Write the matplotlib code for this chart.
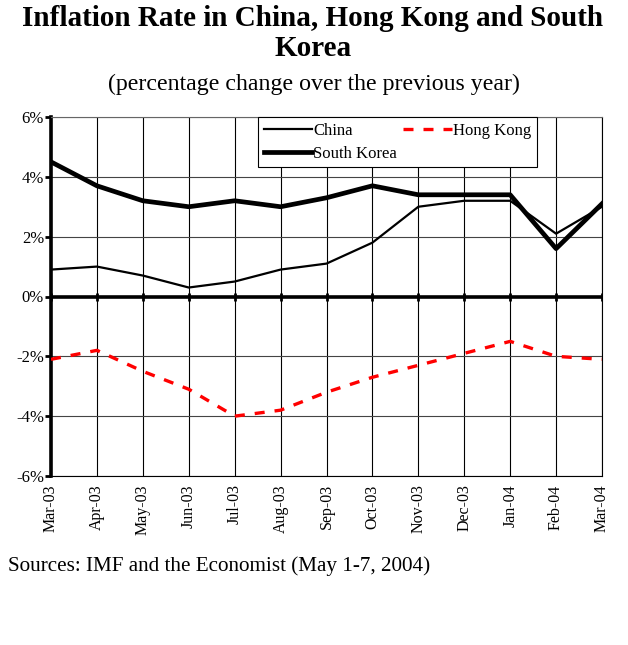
#!/usr/bin/env python3

import numpy as np
from matplotlib import pyplot as plt

### chart data (percent change over previous year)
MONTHS = ['Mar-03', 'Apr-03', 'May-03', 'Jun-03', 'Jul-03', 'Aug-03', 'Sep-03',
          'Oct-03', 'Nov-03', 'Dec-03', 'Jan-04', 'Feb-04', 'Mar-04']
CHINA = [0.9, 1.0, 0.7, 0.3, 0.5, 0.9, 1.1, 1.8, 3.0, 3.2, 3.2, 2.1, 3.0]
SOUTH_KOREA = [4.5, 3.7, 3.2, 3.0, 3.2, 3.0, 3.3, 3.7, 3.4, 3.4, 3.4, 1.6, 3.1]
HONG_KONG = [-2.1, -1.8, -2.5, -3.1, -4.0, -3.8, -3.2, -2.7, -2.3, -1.9, -1.5, -2.0, -2.1]
YTICKS = [-6, -4, -2, 0, 2, 4, 6]

SERIF = 'Liberation Serif'


def main():
    plt.rcParams['font.family'] = SERIF
    fig = plt.figure(figsize=(6.28, 6.45), dpi=100)
    ax = fig.add_axes([51 / 628, 1 - 476 / 645, 551 / 628, 359 / 645])

    x = np.arange(len(MONTHS))

    ax.plot(x, CHINA, color='black', linewidth=1.6, label='China', zorder=3)
    ax.plot(x, SOUTH_KOREA, color='black', linewidth=3.4, label='South Korea', zorder=3)
    ax.plot(x, HONG_KONG, color='red', linewidth=2.4, linestyle=(0, (3, 3)),
            label='Hong Kong', zorder=3)

    ax.set_xlim(0, len(MONTHS) - 1)
    ax.set_ylim(-6, 6)

    # grid
    for v in x:
        ax.axvline(v, color='black', linewidth=0.8, zorder=1)
    for v in YTICKS:
        ax.axhline(v, color='#444444', linewidth=0.8, zorder=1)
    ax.axhline(0, color='black', linewidth=2.6, zorder=2)
    # small ticks hanging off the zero line
    ax.plot(x, np.zeros(len(x)), linestyle='none', marker='|', markersize=6,
            markeredgewidth=2.0, color='black', zorder=2)

    ax.set_yticks(YTICKS)
    ax.set_yticklabels([f'{v}%' for v in YTICKS], fontsize=12)
    ax.set_xticks(x)
    ax.set_xticklabels(MONTHS, rotation=90, fontsize=11.5)
    ax.tick_params(axis='x', length=0, pad=6)
    ax.tick_params(axis='y', length=4, width=2, pad=1)

    ax.spines['left'].set_linewidth(2.6)
    for s in ('top', 'right', 'bottom'):
        ax.spines[s].set_linewidth(0.8)
    ax.spines['top'].set_color('#666666')

    leg = ax.legend(loc='upper left', bbox_to_anchor=(207 / 551, 1.0), ncol=2,
                    fontsize=12, frameon=True, fancybox=False, framealpha=1,
                    edgecolor='black', borderpad=0.35, labelspacing=0.4,
                    handlelength=2.9, handletextpad=0.05, columnspacing=0.4,
                    borderaxespad=0.0)
    leg.get_frame().set_linewidth(0.8)
    leg.set_zorder(5)

    fig.text(0.498, 1 - 18 / 645, 'Inflation Rate in China, Hong Kong and South',
             ha='center', va='center', fontsize=21, fontweight='bold')
    fig.text(0.498, 1 - 48 / 645, 'Korea', ha='center', va='center',
             fontsize=21, fontweight='bold')
    fig.text(108 / 628, 1 - 84 / 645, '(percentage change over the previous year)',
             ha='left', va='center', fontsize=17.2)
    fig.text(8 / 628, 1 - 566 / 645, 'Sources: IMF and the Economist (May 1-7, 2004)',
             ha='left', va='center', fontsize=15.2)

    fig.savefig('out.png', dpi=100)
    return 0


if __name__ == '__main__':
    main()
